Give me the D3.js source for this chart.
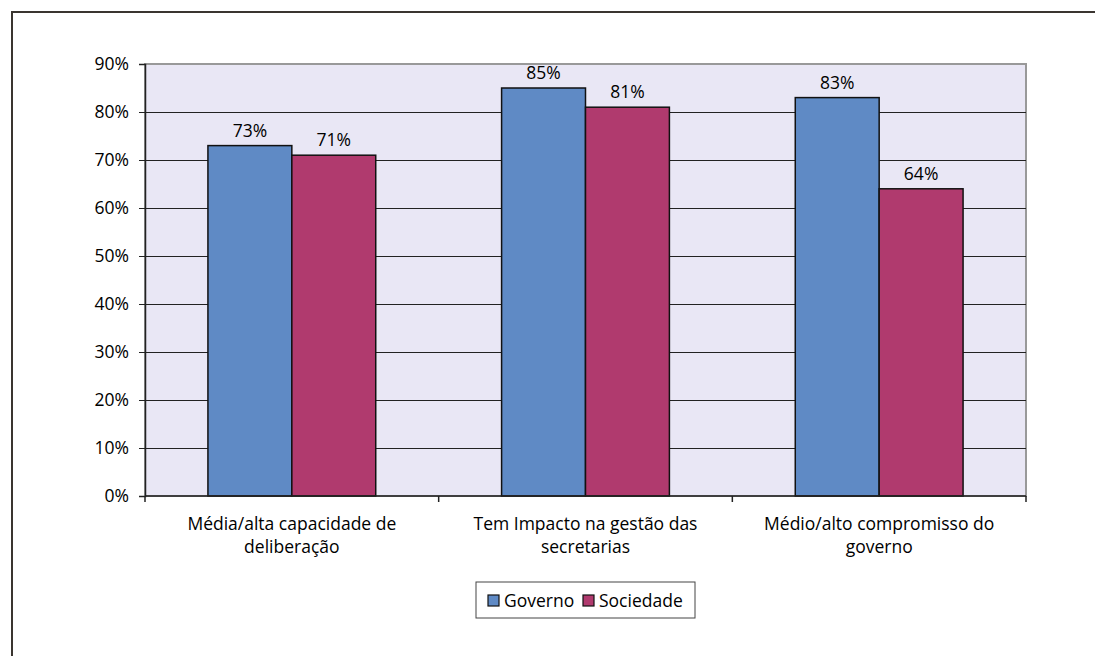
<!DOCTYPE html>
<html>
<head>
<meta charset="utf-8">
<script src="https://cdn.jsdelivr.net/npm/d3@7"></script>
<style>
  body { margin: 0; background: #fff; }
  svg text { font-family: "Open Sans", "Noto Sans", sans-serif; fill: #000; }
</style>
</head>
<body>
<div id="chart"></div>
<script>
// data
const categories = [
    ["Média/alta capacidade de", "deliberação"],
    ["Tem Impacto na gestão das", "secretarias"],
    ["Médio/alto compromisso do", "governo"]
];
const seriesNames = ["Governo", "Sociedade"];
const governo = [0.73, 0.85, 0.83];
const sociedade = [0.71, 0.81, 0.64];
const yTicks = [0, 0.1, 0.2, 0.3, 0.4, 0.5, 0.6, 0.7, 0.8, 0.9];

const colors = {"Governo": "#5f8ac5", "Sociedade": "#b03a6e"};
const fontSize = 17.5;

let width = 1095;
let height = 656;
let margin = {top: 64, right: 69, bottom: 160, left: 145};

const svg = d3.select("#chart").append("svg")
    .attr("width", width)
    .attr("height", height);

// outer frame (runs off the page on right and bottom)
svg.append("rect")
    .attr("x", 12)
    .attr("y", 12)
    .attr("width", width + 20)
    .attr("height", height + 20)
    .attr("fill", "none")
    .attr("stroke", "#3a3530")
    .attr("stroke-width", 2);

const catKeys = categories.map((d, i) => i);

// scales
const xScale = d3.scaleBand()
    .domain(catKeys)
    .range([margin.left, width - margin.right]);

const xSub = d3.scaleBand()
    .domain(seriesNames)
    .range([0, xScale.bandwidth()])
    .paddingInner(0)
    .paddingOuter(0.75);

const yScale = d3.scaleLinear()
    .domain([0, 0.9])
    .range([height - margin.bottom, margin.top]);

// plot background
svg.append("rect")
    .attr("x", margin.left)
    .attr("y", margin.top)
    .attr("width", width - margin.left - margin.right)
    .attr("height", height - margin.top - margin.bottom)
    .attr("fill", "#e9e7f5")
    .attr("stroke", "#999")
    .attr("stroke-width", 2);

// gridlines
svg.append("g")
    .selectAll("line")
    .data(yTicks.filter(d => d > 0 && d < 0.9))
    .enter()
    .append("line")
    .attr("x1", margin.left)
    .attr("x2", width - margin.right)
    .attr("y1", d => Math.round(yScale(d)) + 0.5)
    .attr("y2", d => Math.round(yScale(d)) + 0.5)
    .attr("stroke", "#222")
    .attr("stroke-width", 1);

// bars
const rows = catKeys.map(i => ({cat: i, values: [
    {key: "Governo", value: governo[i]},
    {key: "Sociedade", value: sociedade[i]}
]}));

const groups = svg.append("g")
    .selectAll("g")
    .data(rows)
    .enter()
    .append("g")
    .attr("transform", d => `translate(${xScale(d.cat)},0)`);

groups.selectAll("rect")
    .data(d => d.values)
    .enter()
    .append("rect")
    .attr("x", d => xSub(d.key))
    .attr("y", d => yScale(d.value))
    .attr("width", xSub.bandwidth())
    .attr("height", d => yScale(0) - yScale(d.value))
    .attr("fill", d => colors[d.key])
    .attr("stroke", "#111")
    .attr("stroke-width", 1.5);

groups.selectAll("text")
    .data(d => d.values)
    .enter()
    .append("text")
    .attr("x", d => xSub(d.key) + xSub.bandwidth() / 2)
    .attr("y", d => yScale(d.value) - 9)
    .attr("text-anchor", "middle")
    .attr("font-size", fontSize)
    .text(d => Math.round(d.value * 100) + "%");

// y axis
const yAxis = d3.axisLeft(yScale)
    .tickValues(yTicks)
    .tickFormat(d3.format(".0%"))
    .tickSize(6)
    .tickPadding(10);

const yG = svg.append("g")
    .attr("transform", `translate(${margin.left},0)`)
    .call(yAxis);
yG.select(".domain").attr("stroke", "#222").attr("stroke-width", 1.5);
yG.selectAll(".tick line").attr("stroke", "#222");
yG.selectAll(".tick text").attr("font-size", fontSize).attr("fill", "#000");

// x axis: ticks at category boundaries
const xEdges = catKeys.map(i => xScale(i)).concat([width - margin.right]);
const xG = svg.append("g");
xG.append("line")
    .attr("x1", margin.left)
    .attr("x2", width - margin.right)
    .attr("y1", yScale(0))
    .attr("y2", yScale(0))
    .attr("stroke", "#222")
    .attr("stroke-width", 1.5);
xG.selectAll("line.tick")
    .data(xEdges)
    .enter()
    .append("line")
    .attr("class", "tick")
    .attr("x1", d => d)
    .attr("x2", d => d)
    .attr("y1", yScale(0))
    .attr("y2", yScale(0) + 6)
    .attr("stroke", "#222")
    .attr("stroke-width", 1.5);

// category labels
const labels = svg.append("g")
    .selectAll("text")
    .data(catKeys)
    .enter()
    .append("text")
    .attr("x", d => xScale(d) + xScale.bandwidth() / 2)
    .attr("y", yScale(0) + 34)
    .attr("text-anchor", "middle")
    .attr("font-size", fontSize);
labels.selectAll("tspan")
    .data(d => categories[d])
    .enter()
    .append("tspan")
    .attr("x", function () { return d3.select(this.parentNode).attr("x"); })
    .attr("dy", (d, i) => i === 0 ? 0 : 23)
    .text(d => d);

// legend
const legend = svg.append("g").attr("transform", "translate(476,582)");
legend.append("rect")
    .attr("width", 219)
    .attr("height", 36)
    .attr("fill", "#fff")
    .attr("stroke", "#444")
    .attr("stroke-width", 1);

const legendX = [12, 107];
const items = legend.selectAll("g")
    .data(seriesNames)
    .enter()
    .append("g")
    .attr("transform", (d, i) => `translate(${legendX[i]},13)`);
items.append("rect")
    .attr("width", 11)
    .attr("height", 11)
    .attr("fill", d => colors[d])
    .attr("stroke", "#111")
    .attr("stroke-width", 1.2);
items.append("text")
    .attr("x", 16)
    .attr("y", 12)
    .attr("font-size", fontSize)
    .text(d => d);
</script>
</body>
</html>
